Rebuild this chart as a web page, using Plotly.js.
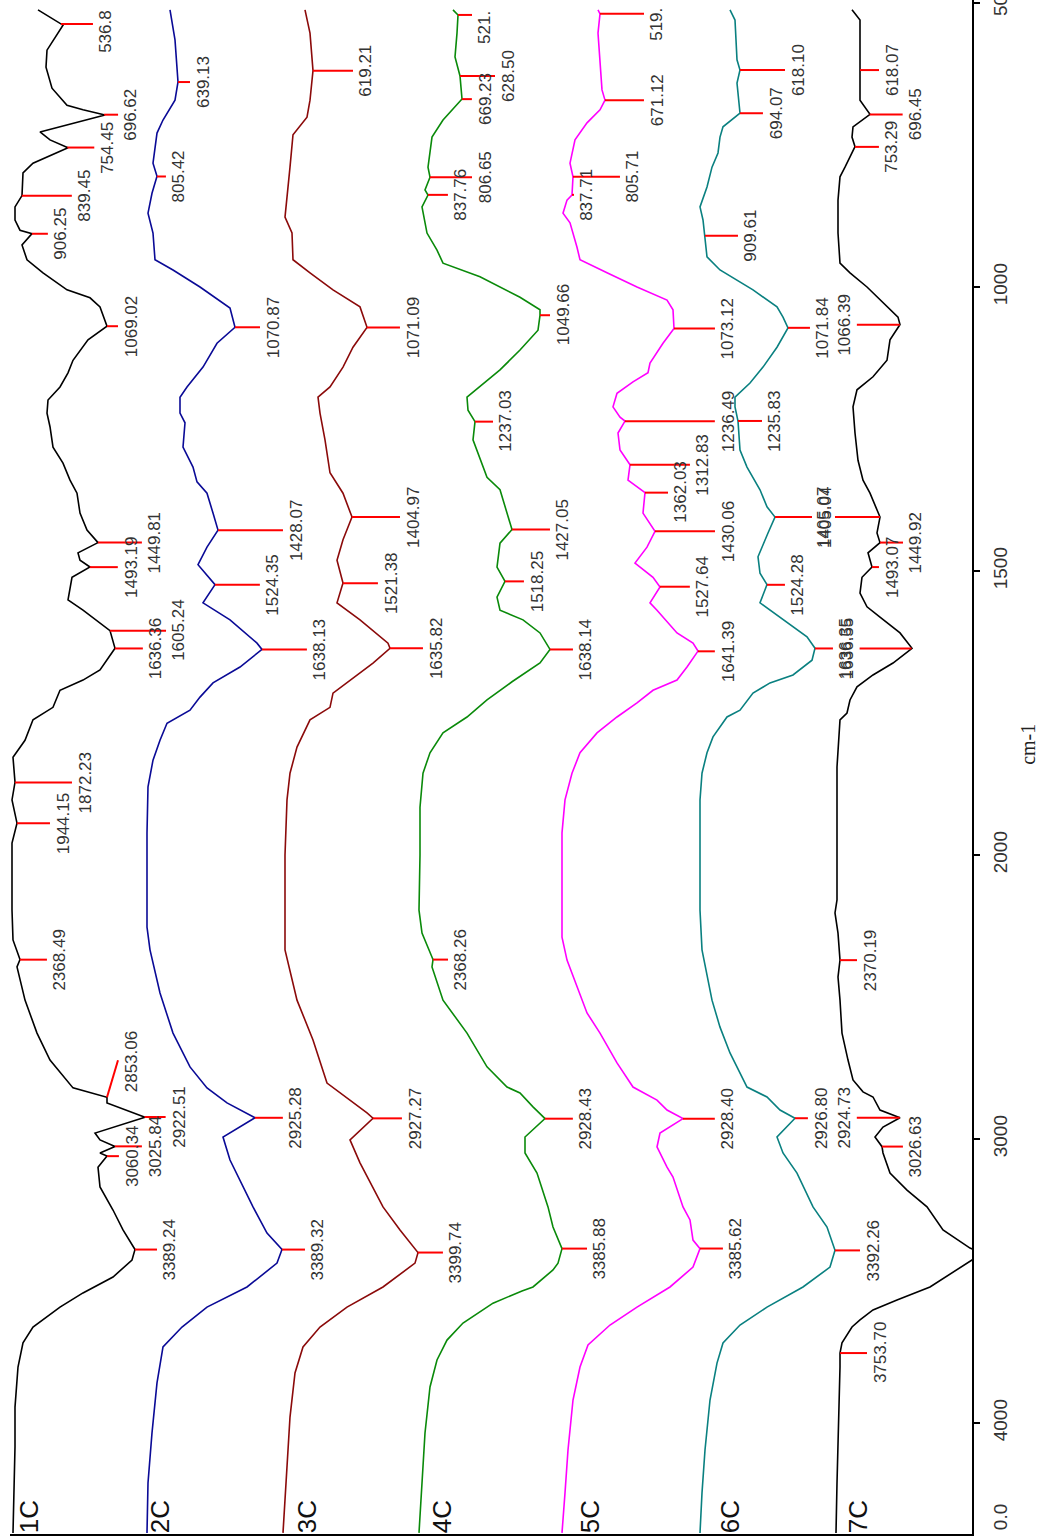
<!DOCTYPE html>
<html><head><meta charset="utf-8">
<script src="https://cdn.plot.ly/plotly-3.0.1.min.js"></script>
<style>html,body{margin:0;padding:0;background:#fff}#chart{width:1048px;height:1536px}</style>
</head><body><div id="chart"></div>
<script>
// ---------- data ----------
const sampleNames = ["1C","2C","3C","4C","5C","6C","7C"];

// wavenumber (cm-1) and offset signal (a.u.) for each sample
const wn1 = [512,539,583,613,650,680,688,697,727,741,755,782,799,839,859,882,900,906,926,952,975,1005,1019,1035,1069,1093,1129,1151,1176,1199,1222,1246,1282,1310,1340,1363,1398,1428,1450,1468,1481,1493,1511,1551,1569,1605,1636,1674,1692,1710,1740,1762,1798,1828,1872,1903,1944,1979,2053,2194,2299,2368,2394,2511,2627,2722,2820,2853,2873,2923,2979,3003,3026,3049,3060,3099,3169,3250,3320,3389,3426,3486,3542,3592,3662,3718,3803,3944,4084,4387];
const sig1 = [38,63,47,46,52,67,83,105,40,50,68,33,23,22,15,15,20,32,22,27,43,67,90,100,107,88,73,68,60,48,47,50,53,63,70,77,80,87,98,78,80,90,72,68,83,110,115,100,83,60,53,33,25,13,15,12,17,12,12,12,13,20,17,25,37,50,73,107,107,145,95,100,115,100,107,98,100,113,123,135,132,113,83,60,33,23,18,15,15,13];

const wn2 = [512,565,639,671,706,729,782,805,835,870,905,952,970,1000,1037,1071,1099,1141,1176,1194,1222,1239,1282,1317,1343,1363,1398,1428,1458,1489,1524,1556,1586,1627,1638,1669,1697,1722,1745,1768,1798,1833,1880,1961,2169,2254,2334,2486,2627,2746,2820,2873,2925,2993,3074,3169,3239,3331,3389,3437,3521,3592,3662,3732,3859,4035,4211,4387];
const sig2 = [170,175,178,175,163,157,153,157,152,148,153,155,173,200,230,235,217,203,187,180,180,185,183,193,197,207,213,218,207,198,215,203,230,257,262,240,213,200,190,167,160,153,148,147,147,147,150,160,173,190,207,227,255,223,230,243,253,267,282,277,247,207,182,163,157,152,148,147];

const wn3 = [512,553,619,671,701,732,789,847,877,905,952,975,1005,1035,1046,1071,1106,1141,1176,1194,1222,1269,1327,1363,1405,1445,1481,1521,1556,1586,1627,1636,1662,1692,1715,1740,1762,1810,1856,1903,2000,2158,2334,2511,2651,2803,2863,2908,2927,3003,3084,3239,3320,3400,3437,3521,3592,3662,3732,3824,3979,4155,4387];
const sig3 = [305,310,313,310,307,293,290,287,285,292,293,310,333,360,362,367,353,343,330,318,320,325,330,343,352,343,337,343,337,360,388,390,373,350,333,330,310,297,290,287,285,285,285,297,313,327,350,367,373,350,360,383,400,418,415,383,347,320,303,295,290,287,283];

const wn4 = [512,521,553,595,628.5,669,706,736,789,806.65,829,838,859,905,935,958,982,1018,1040,1050,1076,1111,1146,1194,1217,1237,1269,1335,1357,1398,1427,1451,1493,1518,1546,1569,1586,1609,1638,1662,1695,1727,1757,1785,1820,1856,1916,2000,2194,2275,2368,2394,2511,2627,2746,2817,2838,2887,2928,2993,3049,3120,3239,3310,3386,3437,3461,3521,3535,3578,3648,3708,3778,3873,4035,4211,4387];
const sig4 = [453,458,457,455,460,462,443,432,428,430,425,428,422,427,437,443,480,520,540,540,538,520,500,467,468,475,473,487,500,507,512,500,497,505,497,500,523,540,550,540,512,487,467,443,430,423,420,420,419,422,433,432,443,467,487,507,520,533,545,525,525,537,548,553,562,558,553,533,522,493,463,447,437,430,425,422,419];

const wn5 = [512,519,553,613,653,671,688,711,741,782,806,838,847,870,887,930,952,975,1000,1023,1040,1073,1099,1134,1151,1167,1187,1211,1229,1236,1257,1287,1313,1340,1362,1398,1430,1458,1486,1511,1528,1556,1569,1609,1627,1641,1669,1692,1710,1732,1757,1785,1820,1856,1903,1961,2194,2289,2370,2465,2556,2627,2732,2817,2863,2898,2928,2979,3028,3099,3134,3239,3285,3356,3386,3451,3521,3592,3655,3725,3803,3919,4095,4246,4387];
const sig5 = [598,600,598,600,602,605,600,587,575,570,573,572,567,563,570,577,580,607,637,667,673,674,663,650,648,633,617,613,620,625,618,620,630,628,645,643,655,647,635,653,660,650,657,677,693,698,687,677,653,637,617,597,580,572,565,562,562,562,567,577,587,600,617,633,657,667,683,660,657,667,673,683,690,693,700,693,670,637,610,588,580,573,568,565,562];

const wn6 = [512,530,600,618,641,694,718,736,764,789,824,859,882,910,947,970,1005,1035,1053,1072,1106,1141,1169,1194,1211,1236,1287,1317,1357,1387,1405,1433,1475,1504,1524,1556,1581,1616,1636,1657,1683,1697,1715,1745,1757,1792,1820,1856,1903,2000,2194,2334,2511,2606,2697,2817,2852,2898,2927,2993,3049,3120,3239,3310,3392,3451,3521,3592,3655,3718,3789,3919,4095,4246,4387];
const sig6 = [730,735,737,740,737,740,723,720,718,712,707,700,703,705,707,720,753,777,783,788,777,763,750,735,735,738,740,747,760,767,775,768,758,760,767,760,780,807,815,812,793,770,753,740,727,713,707,702,700,700,700,702,712,720,730,747,767,780,795,777,783,797,813,827,835,830,803,767,740,723,717,710,705,702,700];

const wn7 = [512,530,553,618,671,696,718,736,753,789,806,847,905,958,975,1000,1035,1053,1066,1093,1129,1158,1181,1211,1257,1305,1340,1363,1405,1433,1450,1468,1493,1511,1539,1563,1581,1609,1636,1662,1683,1704,1727,1750,1762,1815,1845,1903,2000,2158,2204,2275,2370,2430,2511,2627,2722,2792,2834,2852,2898,2925,2958,2993,3027,3049,3120,3180,3239,3320,3384,3405,3426,3461,3521,3567,3602,3637,3662,3718,3754,3803,4035,4211,4387];
const sig7 = [852,860,860,860,860,870,853,852,855,845,840,838,838,840,850,867,887,898,900,890,887,873,857,853,855,858,863,870,880,877,880,868,872,862,860,867,880,900,912,893,873,857,850,847,840,838,837,837,837,837,835,838,840,838,840,842,848,853,863,873,880,900,883,875,882,883,890,907,927,943,970,985,972,957,930,897,873,860,852,842,840,840,838,837,836];

// peak labels (text as printed)
const peaks1 = ["536.8","696.62","754.45","839.45","906.25","1069.02","1449.81","1493.19","1605.24","1636.36","1872.23","1944.15","2368.49","2853.06","2922.51","3025.84","3060.34","3389.24"];
const peaks2 = ["639.13","805.42","1070.87","1428.07","1524.35","1638.13","2925.28","3389.32"];
const peaks3 = ["619.21","1071.09","1404.97","1521.38","1635.82","2927.27","3399.74"];
const peaks4 = ["521.","628.50","669.23","806.65","837.76","1049.66","1237.03","1427.05","1518.25","1638.14","2368.26","2928.43","3385.88"];
const peaks5 = ["519.","671.12","805.71","837.71","1073.12","1236.49","1312.83","1362.03","1430.06","1527.64","1641.39","2928.40","3385.62"];
const peaks6 = ["618.10","694.07","909.61","1071.84","1235.83","1405.04","1524.28","1636.35","2926.80","3392.26"];
const peaks7 = ["618.07","696.45","753.29","1066.39","1405.07","1449.92","1493.07","1636.55","2370.19","2924.73","3026.63","3753.70"];

const tickWavenumbers = [500,1000,1500,2000,3000,4000];
const tickLabels = ["500","1000","1500","2000","3000","4000"];

// ---------- style ----------
const lineColors = ["#000000","#0a0a96","#8b0a0a","#0a8a0a","#ff00ff","#0a8080","#000000"];
// leader lengths in px (negative = drawn to the left of the peak)
const lead = [
  [32,14,27,50,16,11,44,28,56,28,57,33,27,11,21,27,12,22],
  [12,9,25,65,45,45,28,23],
  [40,33,48,35,33,29,25],
  [14,35,10,42,20,10,18,38,19,23,15,28,25],
  [44,39,47,2,41,90,60,23,60,30,17,32,23],
  [45,23,33,22,24,37,18,18,13,25],
  [19,33,24,-43,-45,23,7,-52,17,-43,21,27]
];
const textShift = {"536.8":-7, "521.":-13, "519.":-11, "2853.06":35};
const lineRise = {"2853.06":37};
const nameX = [29,160,307,442,590,730,858];

const W = 1048, H = 1536;
const M = {l:10, r:76, t:0, b:2};
const xRange = [10, 972];
const yRange = [3195.4, 494.7];          // display units, reversed (500 on top)
const pxPerUnit = (H - M.t - M.b) / (yRange[0] - yRange[1]);

// 2:1 scale change at 2000 cm-1, as on the instrument plot
const T = w => w <= 2000 ? w : 2000 + (w - 2000) / 2;

const wns = [wn1,wn2,wn3,wn4,wn5,wn6,wn7];
const sigs = [sig1,sig2,sig3,sig4,sig5,sig6,sig7];
const peaks = [peaks1,peaks2,peaks3,peaks4,peaks5,peaks6,peaks7];

function valueAt(wn, sg, w){
  for (let i = 0; i < wn.length - 1; i++){
    if (w >= wn[i] && w <= wn[i+1]){
      const f = (w - wn[i]) / (wn[i+1] - wn[i]);
      return sg[i] + f * (sg[i+1] - sg[i]);
    }
  }
  return w < wn[0] ? sg[0] : sg[sg.length-1];
}

const traces = sampleNames.map((n,i)=>({
  type:'scatter', mode:'lines', name:n,
  x: sigs[i], y: wns[i].map(T),
  line:{color:lineColors[i], width:1.6}, hoverinfo:'skip'
}));

const shapes = [], annotations = [];
peaks.forEach((list, si)=>{
  list.forEach((txt, k)=>{
    const w = parseFloat(txt);
    const x0 = valueAt(wns[si], sigs[si], w);
    const L = lead[si][k];
    const y0 = T(w);
    const rise = lineRise[txt] || 0;
    const x1 = x0 + L;
    const y1 = y0 - rise / pxPerUnit;
    shapes.push({type:'line', xref:'x', yref:'y', x0:x0, y0:y0, x1:x1, y1:y1,
      line:{color:'#ff0000', width:2}});
    annotations.push({xref:'x', yref:'y', x:x1, y:y0, text:txt, showarrow:false,
      textangle:-90, xanchor:'center', yanchor:'middle',
      xshift:(L >= 0 ? 13 : -12), yshift:(textShift[txt] || 0),
      font:{family:'Liberation Sans, Arial, sans-serif', size:17, color:'#333333'}});
  });
});

sampleNames.forEach((n,i)=>{
  annotations.push({xref:'x', yref:'paper', x:nameX[i], y:0.011, text:n, showarrow:false,
    textangle:-90, xanchor:'center', yanchor:'middle',
    font:{family:'Liberation Sans Narrow, Liberation Sans, Arial, sans-serif', size:26, color:'#111111'}});
});
annotations.push({xref:'paper', yref:'y', x:(1028-10)/962, y:1806, text:'cm-1', showarrow:false,
  textangle:-90, xanchor:'center', yanchor:'middle',
  font:{family:'Liberation Serif, serif', size:20, color:'#222222'}});
annotations.push({xref:'paper', yref:'paper', x:(1000-10)/962, y:0.011, text:'0.0', showarrow:false,
  textangle:-90, xanchor:'center', yanchor:'middle',
  font:{family:'Liberation Sans, Arial, sans-serif', size:19, color:'#333333'}});

const layout = {
  width:W, height:H, margin:M, showlegend:false,
  paper_bgcolor:'#ffffff', plot_bgcolor:'#ffffff',
  xaxis:{range:xRange, showgrid:false, zeroline:false, showticklabels:false, ticks:'',
    showline:true, linecolor:'#000', linewidth:1.5},
  yaxis:{range:yRange, side:'right', showgrid:false, zeroline:false,
    showline:true, linecolor:'#000', linewidth:1.5,
    ticks:'outside', ticklen:6, tickwidth:1.5, tickcolor:'#000',
    tickmode:'array', tickvals:tickWavenumbers.map(T), ticktext:tickLabels,
    tickangle:-90, ticklabeloverflow:'allow', ticklabelstandoff:5,
    tickfont:{family:'Liberation Sans, Arial, sans-serif', size:19, color:'#333333'}},
  shapes:shapes, annotations:annotations
};

Plotly.newPlot('chart', traces, layout, {staticPlot:true, displayModeBar:false});
</script>
</body></html>
